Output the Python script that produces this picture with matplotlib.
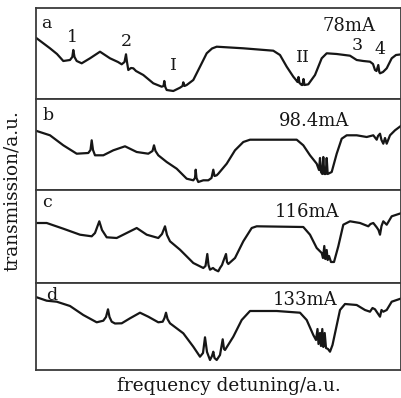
import matplotlib
matplotlib.use("Agg")
import matplotlib.pyplot as plt

# frequency detuning (a.u.) and transmission (a.u.)
a_x = [0.7, 14, 21, 27.3, 34, 36.3, 37.3, 38.5, 40.7, 45.7, 54, 64, 74, 82, 85.7, 88.5, 90, 91, 92.3, 95, 97.3,
       100, 107.3, 117.3, 125.7, 127.5, 128.3, 129.3, 130.7, 137.3, 144, 146.5, 147.3, 148.5, 150.7, 157.3, 164,
       170.7, 176, 180.7, 207.3, 237.3, 244, 250.7, 257.3, 260, 261.5, 262.5, 263.5, 265.7, 266.5, 267.5, 268.5,
       272.3, 279, 285.7, 290.7, 300.7, 314, 320.7, 327.3, 334, 337, 339, 340.5, 342.3, 343.3, 344, 347, 350.7,
       355.7, 360, 365.7]
a_y = [60.7, 50.7, 45, 38, 39, 42, 49, 42, 38, 35.7, 40.7, 47.3, 40.7, 37, 34.7, 37, 44.7, 37, 29, 31, 30.7,
       28, 24, 15.7, 12.3, 13, 18, 12, 9, 8, 11.3, 13, 16.7, 13, 14, 19, 32.3,
       45.7, 50.5, 52.3, 50.7, 48.3, 44, 32.3, 22.3, 19, 17, 22, 16, 14, 14, 20, 14,
       14.7, 24, 40.7, 45.7, 45, 43.3, 39, 38, 37.3, 35, 29, 28, 34, 27, 25.7, 27, 30.7,
       40.7, 44, 44.7]

b_x = [0.7, 14, 27.3, 40.7, 52.3, 54.5, 55.7, 57, 59, 67.3, 77.3, 89, 100.7, 112.3, 116.5, 118, 119.5, 122.3,
       130.7, 140.7, 150.7, 157.3, 159, 159.7, 160.5, 162.3, 167.3, 172.3, 175.5, 177.3, 178.5, 180.7, 182.3,
       190.7, 199, 207.3, 214, 240.7, 260.7, 267.3, 274, 280.7, 283, 284, 285, 286.3, 287.3, 288.3, 289.7,
       290.7, 291.7, 295.7, 300.7, 305.7, 310.7, 320.7, 330.7, 337.3, 340.7, 342, 344, 345.5, 347.3, 349,
       350.7, 354, 359, 365.7]
b_y = [59, 54.7, 44.7, 36.3, 37, 40, 49.7, 40, 34.7, 34.7, 39.7, 43.7, 38, 36.3, 39, 44.7, 39, 34.7,
       28, 21.3, 11.3, 9.7, 12, 20.3, 12, 8, 9.7, 9.7, 12, 20.3, 14, 14.7, 16.3,
       26.3, 39.7, 48, 50.3, 50.3, 50.3, 44.7, 34.7, 26.3, 20, 32, 18, 16, 33, 16, 16,
       32, 16, 18, 36.3, 51.3, 54.7, 54.7, 53, 54.7, 50.3, 54, 56.3, 50, 46.3, 52,
       46.3, 54.7, 59.7, 64.7]

c_x = [0.7, 10.7, 27.3, 44, 55.7, 59, 63.3, 66, 70.7, 80.7, 90.7, 100.7, 110.7, 122.3, 126, 129, 131, 134,
       144, 157.3, 167.3, 169.5, 171.3, 172.5, 174, 177, 179, 182.3, 184, 186, 187.3, 190, 191, 192.3, 199,
       207.3, 215.7, 220.7, 267.3, 274, 280.7, 285.7, 287, 288.3, 289.3, 290.7, 291.7, 293, 295, 298, 302.3,
       307.3, 314, 324, 332.3, 334.5, 337.3, 340.7, 342.5, 344, 345.5, 347.3, 350.7, 355.7, 365.7]
c_y = [60, 60, 54.3, 48.3, 46.7, 50, 61.7, 53, 45.7, 45, 50, 55, 48.3, 45, 49, 56.7, 48, 41.7,
       33.3, 20, 15, 17, 29, 18, 13.3, 15, 13.3, 11.7, 15, 18, 21.7, 29, 21, 19, 25,
       41.7, 55, 56.7, 56, 48.3, 35, 30, 25, 37, 24, 33, 23, 27, 21, 21, 36.7,
       58.3, 61.7, 60, 56.7, 59, 60, 55.7, 53, 48.3, 57, 61.7, 58.3, 66.7, 70]

d_x = [0.7, 10.7, 20.7, 34, 47.3, 60.7, 67.3, 70, 72, 73.5, 75.7, 79, 85.7, 94, 104, 112.3, 122.3, 126.7,
       128.5, 130, 131.5, 134, 147.3, 157.3, 164, 167, 169, 171, 174, 176, 177.3, 178.5, 180.7, 184, 186.7,
       188, 189, 197.3, 205.7, 214, 240.7, 264, 270.7, 277.3, 280, 281.5, 282.5, 284, 285, 286.3, 287.3,
       288.7, 290, 292, 294, 296.5, 299, 304, 309, 320.7, 329, 334, 336.5, 339, 341.5, 344, 345.5, 347.3,
       350.7, 355.7, 365.7]
d_y = [72.7, 69.3, 68.3, 64, 55, 47.7, 49.3, 53, 60.7, 53, 48.3, 46.5, 46.7, 51.7, 57.3, 53.3, 47.7, 48.3,
       52, 57.3, 51, 46.7, 36.7, 23.3, 13.3, 17, 32.7, 18, 10, 14, 18.3, 12, 10, 15, 30.7,
       21, 20, 33.3, 50, 59, 59, 57.3, 50, 35, 30, 41, 26, 37, 24, 41, 23,
       37, 22, 21, 18.3, 25, 36.7, 60, 66, 65, 60, 58.3, 62, 60.7, 57, 53.3, 60, 58.3,
       60, 68.3, 71.7]

panel_letters = ["a", "b", "c", "d"]
currents = ["78mA", "98.4mA", "116mA", "133mA"]
peak_labels = ["1", "2", "I", "II", "3", "4"]
xs = [a_x, b_x, c_x, d_x]
ys = [a_y, b_y, c_y, d_y]

FONT = "DejaVu Serif"
ink = "#161616"

fig = plt.figure(figsize=(4.02, 3.98), dpi=100)
gs = fig.add_gridspec(4, 1, left=36 / 402, right=401 / 402, top=1 - 8 / 398, bottom=1 - 370 / 398,
                      hspace=0, height_ratios=[91, 91, 93, 87])
ylims = [91, 91, 93, 87]
letter_pos = [(10.7, 75.7), (12.3, 74.5), (11, 80), (15.7, 75)]
cur_pos = [(313, 72.7), (278, 69), (271.5, 71.3), (269, 70.3)]
peak_pos = [(36.7, 61.5), (90, 58), (137.3, 33), (267.3, 41), (320.7, 53), (344, 50)]

for i in range(4):
    ax = fig.add_subplot(gs[i])
    ax.plot(xs[i], ys[i], color=ink, lw=1.6, solid_joinstyle="round")
    ax.set_xlim(0, 365)
    ax.set_ylim(0, ylims[i])
    ax.set_xticks([])
    ax.set_yticks([])
    for s in ax.spines.values():
        s.set_color("#3a3a3a")
        s.set_linewidth(1.3)
    ax.text(*letter_pos[i], panel_letters[i], family=FONT, fontsize=12.5, ha="center", va="center", color=ink)
    ax.text(*cur_pos[i], currents[i], family=FONT, fontsize=13, ha="center", va="center", color=ink)
    if i == 0:
        for lab, (px, py) in zip(peak_labels, peak_pos):
            ax.text(px, py, lab, family=FONT, fontsize=12.5, ha="center", va="center", color=ink)

fig.text(229 / 402, 1 - 386 / 398, "frequency detuning/a.u.", family=FONT, fontsize=13.3,
         ha="center", va="center", color=ink)
fig.text(12 / 402, 1 - 191 / 398, "transmission/a.u.", family=FONT, fontsize=13.3,
         ha="center", va="center", rotation=90, color=ink)

fig.savefig("out.png", dpi=100, facecolor="white")
